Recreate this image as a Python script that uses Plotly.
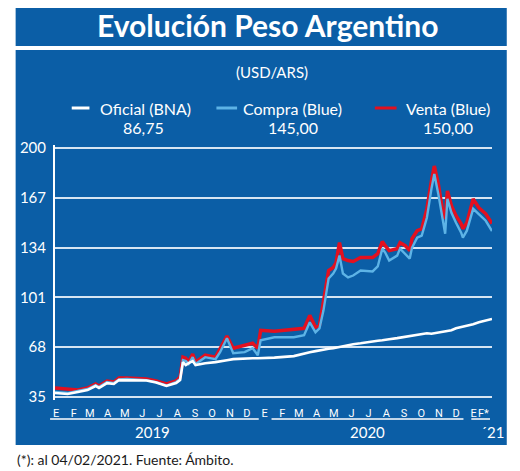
import plotly.graph_objects as go
import pandas as pd

# datos (USD/ARS)
fechas = [
    "2019-01-01", "2019-01-23", "2019-02-10", "2019-02-27", "2019-03-13", "2019-03-19",
    "2019-04-02", "2019-04-14", "2019-04-23", "2019-05-07", "2019-06-10", "2019-06-27",
    "2019-07-15", "2019-08-01", "2019-08-08", "2019-08-13", "2019-08-18", "2019-08-23",
    "2019-08-30", "2019-09-04", "2019-09-21", "2019-10-09", "2019-10-17", "2019-10-29",
    "2019-11-09", "2019-11-29", "2019-12-13", "2019-12-22", "2019-12-27", "2020-01-20",
    "2020-02-23", "2020-03-12", "2020-03-22", "2020-04-01", "2020-04-08", "2020-04-15",
    "2020-04-24", "2020-05-02", "2020-05-07", "2020-05-13", "2020-05-19", "2020-05-28",
    "2020-06-06", "2020-06-19", "2020-07-10", "2020-07-19", "2020-07-27", "2020-08-01",
    "2020-08-08", "2020-08-22", "2020-08-27", "2020-09-05", "2020-09-13", "2020-09-17",
    "2020-09-26", "2020-10-04", "2020-10-13", "2020-10-21", "2020-10-26", "2020-11-02",
    "2020-11-09", "2020-11-14", "2020-11-18", "2020-11-25", "2020-12-03", "2020-12-12",
    "2020-12-15", "2020-12-22", "2021-01-02", "2021-01-12", "2021-01-24", "2021-02-04",
]
oficial = [
    37.6, 37.0, 38.3, 39.6, 42.3, 40.9, 44.2, 43.6, 46.2, 46.2, 45.9, 44.6,
    42.3, 44.2, 46.2, 58.1, 56.1, 57.4, 58.8, 56.1, 57.4, 58.1, 58.8, 59.4,
    60.1, 60.7, 60.7, 60.7, 60.7, 61.1, 62.1, 64.0, 64.7, 65.4, 66.0, 66.7,
    67.0, 67.3, 67.7, 68.0, 68.7, 69.3, 70.0, 70.6, 72.0, 72.3, 72.6, 73.0,
    73.3, 74.0, 74.3, 74.6, 75.3, 75.6, 75.9, 76.6, 77.2, 76.9, 77.2, 77.9,
    78.2, 78.6, 78.9, 79.2, 80.5, 81.2, 81.5, 82.2, 83.2, 84.5, 85.8, 86.75,
]
compra_blue = [
    38.3, 37.6, 39.0, 40.3, 42.9, 41.6, 44.9, 44.2, 46.6, 46.9, 46.2, 44.9,
    42.6, 44.9, 46.9, 59.4, 58.8, 56.8, 61.4, 56.8, 61.4, 60.1, 64.7, 73.9,
    64.0, 64.7, 67.3, 62.7, 72.6, 74.6, 74.6, 75.9, 84.5, 77.9, 80.5, 92.4,
    113.5, 116.8, 120.1, 128.7, 116.8, 114.2, 115.5, 118.8, 118.2, 121.5, 133.3, 130.7,
    125.4, 128.7, 133.3, 130.0, 126.7, 134.0, 140.6, 141.9, 153.8, 173.0, 182.8, 169.6,
    153.1, 143.2, 166.3, 157.1, 150.5, 143.9, 140.6, 145.2, 159.7, 155.8, 151.8, 145.0,
]
venta_blue = [
    40.9, 40.3, 39.6, 40.9, 43.6, 42.3, 45.6, 44.9, 47.5, 47.5, 46.9, 45.6,
    43.6, 45.6, 48.2, 61.4, 60.7, 58.1, 63.4, 58.1, 62.7, 61.4, 66.7, 75.3,
    67.3, 69.3, 70.6, 67.3, 79.2, 78.6, 79.9, 80.5, 89.1, 81.2, 82.5, 97.0,
    118.8, 120.8, 124.1, 137.3, 126.7, 125.4, 124.8, 127.4, 127.4, 130.0, 138.0, 135.3,
    132.0, 133.3, 137.3, 135.3, 132.0, 140.0, 145.2, 146.5, 159.7, 178.2, 188.1, 176.2,
    159.7, 153.1, 171.6, 161.7, 155.1, 149.8, 146.5, 150.5, 166.3, 160.4, 156.4, 150.0,
]

y_ticks = [35, 68, 101, 134, 167, 200]
meses = ["E", "F", "M", "A", "M", "J", "J", "A", "S", "O", "N", "D",
         "E", "F", "M", "A", "M", "J", "J", "A", "S", "O", "N", "D", "E", "F*"]
anios = ["2019", "2020", "´21"]

AZUL = "#0b5ea6"
CELESTE = "#5db3e6"
ROJO = "#e3101f"
FUENTE = "Lato, 'Noto Sans', sans-serif"

# posiciones de las marcas de mes (inicio de mes, salvo la ultima)
tick_fechas = list(pd.date_range("2019-01-01", "2021-01-01", freq="MS") + pd.Timedelta(days=2))
tick_fechas.append(pd.Timestamp("2021-01-20"))

# la pagina tiene 8px de margen en el body: figura 8px mas chica
OFF = 8
W, H = 520 - OFF, 471 - OFF
L, R, T, B = 48 - OFF, 28, 145 - OFF, 71
PW, PH = W - L - R, H - T - B


def px(x):
    # coordenada de ventana -> paper
    return (x - OFF - L) / PW


def py(y):
    return (H - B - (y - OFF)) / PH


fig = go.Figure()
fig.add_trace(go.Scatter(x=fechas, y=venta_blue, mode="lines", name="Venta (Blue)",
                         line=dict(color=ROJO, width=3.5)))
fig.add_trace(go.Scatter(x=fechas, y=compra_blue, mode="lines", name="Compra (Blue)",
                         line=dict(color=CELESTE, width=2.4)))
fig.add_trace(go.Scatter(x=fechas, y=oficial, mode="lines", name="Oficial (BNA)",
                         line=dict(color="white", width=2.6)))

shapes = [
    dict(type="rect", xref="paper", yref="paper", x0=px(8), x1=px(507), y0=py(46), y1=py(3),
         fillcolor=AZUL, line=dict(width=0), layer="below"),
    dict(type="rect", xref="paper", yref="paper", x0=px(8), x1=px(507), y0=py(445), y1=py(50),
         fillcolor=AZUL, line=dict(width=0), layer="below"),
]
# muestras de leyenda
for x0, x1, c in [(65, 83, "white"), (212, 233, CELESTE), (373, 395, ROJO)]:
    shapes.append(dict(type="line", xref="paper", yref="paper", x0=px(x0), x1=px(x1),
                       y0=py(108), y1=py(108), line=dict(color=c, width=3)))
# subrayados de anio
for x0, x1 in [(43, 255), (268, 463), (471, 490)]:
    shapes.append(dict(type="line", xref="paper", yref="paper", x0=px(x0), x1=px(x1),
                       y0=py(419), y1=py(419), line=dict(color="white", width=1.5)))

annotations = [
    dict(text="<b>Evolución Peso Argentino</b>", x=px(264), y=py(25),
         font=dict(size=30, color="white", family=FUENTE)),
    dict(text="(USD/ARS)", x=px(268), y=py(72), font=dict(size=15, color="white", family=FUENTE)),
    dict(text="(*): al 04/02/2021. Fuente: Ámbito.", x=px(7), y=py(459), xanchor="left",
         font=dict(size=14, color="#1a1a1a", family=FUENTE)),
]
leyenda = [("Oficial (BNA)", oficial[-1], 92, 138), ("Compra (Blue)", compra_blue[-1], 237, 290),
           ("Venta (Blue)", venta_blue[-1], 403, 447)]
for nombre, valor, xl, xc in leyenda:
    annotations.append(dict(text=nombre, x=px(xl), y=py(108), xanchor="left",
                            font=dict(size=16, color="white", family=FUENTE)))
    annotations.append(dict(text=f"{valor:.2f}".replace(".", ","), x=px(xc), y=py(127),
                            font=dict(size=16, color="white", family=FUENTE)))
for texto, xc in zip(anios, [147, 366, 493]):
    annotations.append(dict(text=texto, x=px(xc), y=py(432),
                            font=dict(size=15, color="white", family=FUENTE)))
for a in annotations:
    a.update(xref="paper", yref="paper", showarrow=False)
    a.setdefault("xanchor", "center")
    a.setdefault("yanchor", "middle")

fig.update_layout(
    width=W, height=H,
    margin=dict(l=L, r=R, t=T, b=B),
    paper_bgcolor="white", plot_bgcolor=AZUL,
    showlegend=False,
    shapes=shapes, annotations=annotations,
    xaxis=dict(range=["2019-01-01", "2021-02-04"], showgrid=False, zeroline=False,
               showline=False, tickvals=tick_fechas, ticktext=meses, tickangle=0,
               ticks="outside", ticklen=3, tickcolor=AZUL,
               tickfont=dict(size=11, color="white", family="'Liberation Sans Narrow', Roboto, sans-serif")),
    yaxis=dict(range=[33, 202], tickvals=y_ticks, showgrid=True, gridcolor="#d6e5f3",
               gridwidth=1.5, zeroline=False, showline=True, linecolor="white", linewidth=2,
               ticks="", ticklabelstandoff=4,
               tickfont=dict(size=15, color="white", family=FUENTE)),
)

fig.write_html("out.html")
